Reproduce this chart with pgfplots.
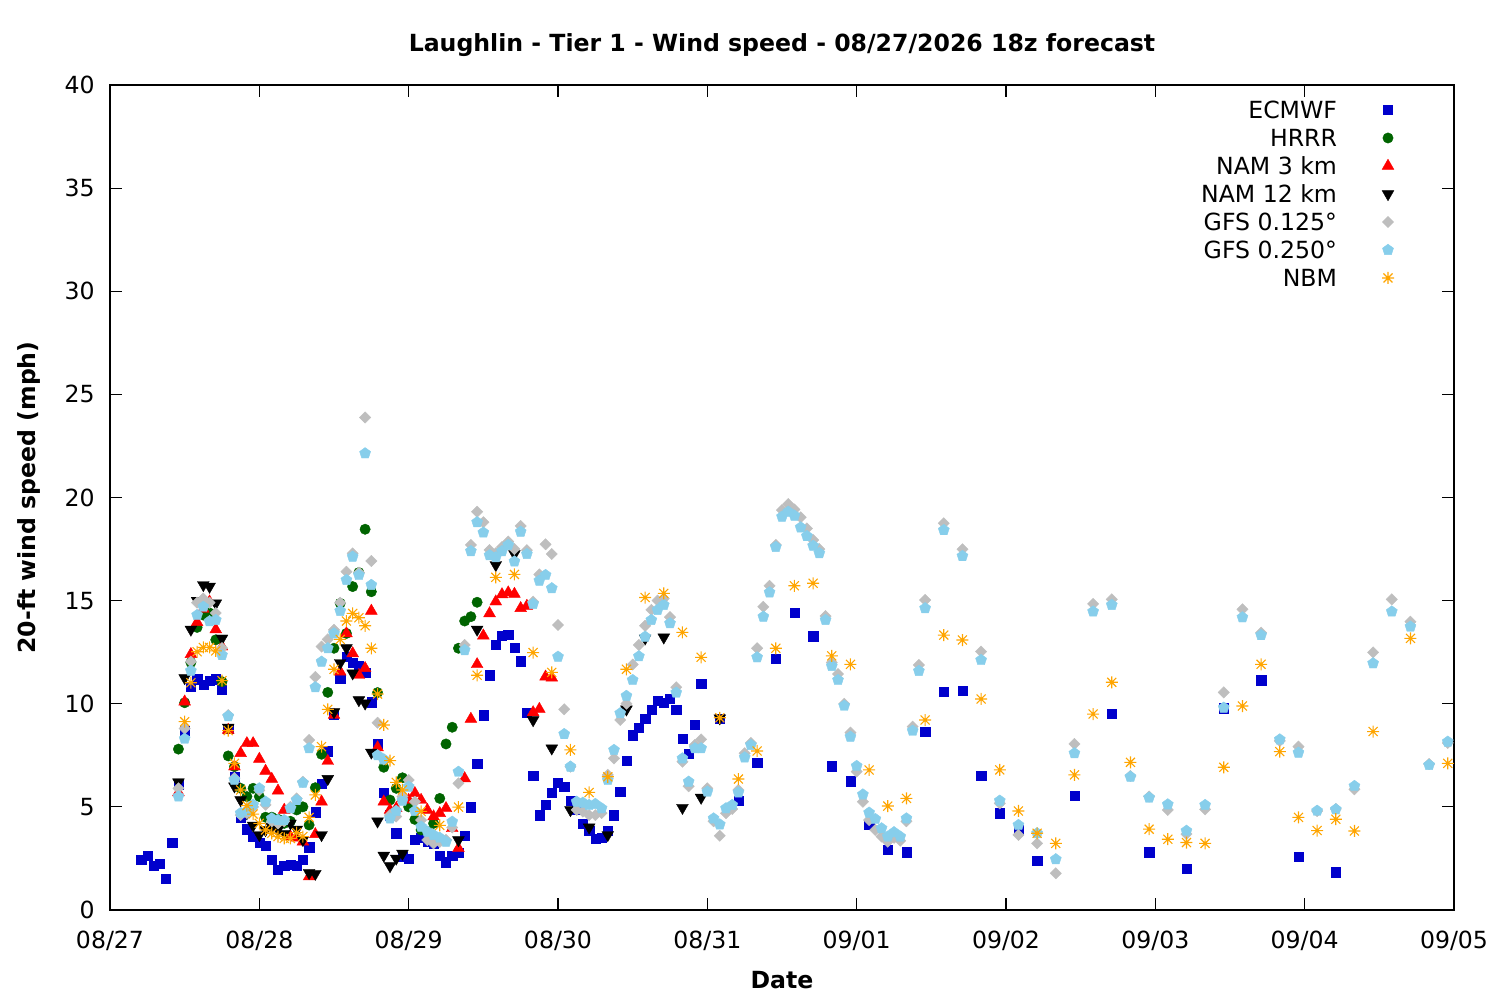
\documentclass[border=0pt]{standalone}
\usepackage{fontspec}
\setmainfont{DejaVu Sans}
\usepackage{pgfplots}
\pgfplotsset{compat=1.18}
\definecolor{ecm}{RGB}{0,0,204}
\definecolor{hrrr}{RGB}{0,100,0}
\definecolor{gfsa}{RGB}{190,190,190}
\definecolor{gfsb}{RGB}{135,206,235}
\definecolor{nbm}{RGB}{255,165,0}
\pgfdeclareplotmark{ast8}{%
  \pgfpathmoveto{\pgfqpoint{-\pgfplotmarksize}{0pt}}\pgfpathlineto{\pgfqpoint{\pgfplotmarksize}{0pt}}%
  \pgfpathmoveto{\pgfqpoint{0pt}{-\pgfplotmarksize}}\pgfpathlineto{\pgfqpoint{0pt}{\pgfplotmarksize}}%
  \pgfpathmoveto{\pgfqpoint{-0.75\pgfplotmarksize}{-0.75\pgfplotmarksize}}\pgfpathlineto{\pgfqpoint{0.75\pgfplotmarksize}{0.75\pgfplotmarksize}}%
  \pgfpathmoveto{\pgfqpoint{-0.75\pgfplotmarksize}{0.75\pgfplotmarksize}}\pgfpathlineto{\pgfqpoint{0.75\pgfplotmarksize}{-0.75\pgfplotmarksize}}%
  \pgfusepathqstroke}

\pgfplotstableread{
h v
5 2.42
6 2.62
7 2.13
8 2.26
9 1.50
10 3.28
11 6.1
12 8.7
13 10.83
14 11.19
15 10.94
16 11.10
17 11.19
18 10.70
19 8.80
20 6.46
21 4.50
22 3.92
23 3.55
24 3.28
25 3.12
26 2.42
27 1.97
28 2.13
29 2.18
30 2.13
31 2.42
32 3.04
33 4.74
34 6.14
35 7.70
36 9.45
37 11.23
38 12.30
39 12.0
40 11.84
41 11.50
42 10.07
43 8.08
44 5.70
45 4.6
46 3.72
47 2.6
48 2.50
49 3.40
50 3.5
51 3.3
52 3.2
53 2.65
54 2.32
55 2.65
56 2.78
57 3.59
58 4.98
59 7.08
60 9.44
61 11.38
62 12.88
63 13.30
64 13.35
65 12.73
66 12.06
67 9.58
68 6.53
69 4.60
70 5.09
71 5.67
72 6.19
73 5.96
74 5.28
75 4.85
76 4.20
77 3.83
78 3.44
79 3.52
80 3.84
81 4.60
82 5.75
83 7.24
84 8.47
85 8.82
86 9.26
87 9.73
88 10.15
89 10.05
90 10.23
91 9.73
92 8.29
93 7.56
94 9.00
95 10.99
98 9.26
101 5.28
104 7.16
107 12.17
110 14.43
113 13.27
116 6.97
119 6.24
122 4.15
125 2.94
128 2.80
131 8.66
134 10.60
137 10.65
140 6.53
143 4.69
146 3.88
149 2.38
155 5.56
161 9.53
167 2.80
173 2.02
179 9.78
185 11.14
191 2.57
197 1.83
}\ecmwf

\pgfplotstableread{
h v
11 7.80
12 10.05
13 12.0
14 13.70
15 14.3
16 14.4
17 13.10
18 11.07
19 7.47
20 6.95
21 5.90
22 5.5
23 5.90
24 5.50
25 4.50
26 4.50
27 4.4
28 4.2
29 4.30
30 4.85
31 5.00
32 4.12
33 5.93
34 7.55
35 10.55
36 12.69
37 14.87
38 13.41
39 15.68
40 16.36
41 18.46
42 15.43
43 10.54
44 6.92
45 5.33
46 5.9
47 6.41
48 5.0
49 4.39
50 3.88
51 3.8
52 4.2
53 5.41
54 8.05
55 8.86
56 12.69
57 14.01
58 14.22
59 14.92
}\hrrr

\pgfplotstableread{
h v
11 5.7
12 10.10
13 12.40
14 13.95
15 14.6
16 14.95
17 13.6
18 12.77
19 8.73
20 6.95
21 7.60
22 8.08
23 8.08
24 7.32
25 6.74
26 6.35
27 5.78
28 4.85
29 3.56
30 3.5
31 3.31
32 1.62
33 3.67
34 5.25
35 7.22
36 9.45
37 11.55
38 13.41
39 12.44
40 11.39
41 11.72
42 14.50
43 7.88
44 5.25
45 4.85
46 4.93
47 5.41
48 5.33
49 5.66
50 5.33
51 4.85
52 4.53
53 4.69
54 4.93
55 3.96
56 2.99
57 6.38
58 9.26
59 11.91
60 13.30
61 14.38
62 14.95
63 15.30
64 15.39
65 15.32
66 14.63
67 14.74
68 9.58
69 9.74
70 11.31
71 11.26
}\namthree

\pgfplotstableread{
h v
11 6.20
12 11.25
13 13.60
14 15.00
15 15.76
16 15.68
17 14.87
18 13.17
19 8.85
20 6.00
21 5.33
22 4.7
23 4.10
24 3.64
25 3.88
26 4.04
27 3.9
28 3.7
29 4.20
30 3.9
31 3.40
32 1.80
33 1.76
34 3.64
35 6.36
36 9.6
37 11.98
38 12.70
39 11.48
40 10.18
41 10.02
42 7.64
43 4.30
44 2.64
45 2.13
46 2.50
47 2.74
56 3.39
59 13.60
62 16.73
65 17.26
68 9.21
71 7.84
74 4.85
77 4.01
80 3.64
83 9.73
86 13.17
89 13.22
92 4.96
95 5.45
98 9.3
}\namtwelve

\pgfplotstableread{
h v
11 5.9
12 8.8
13 12.04
14 14.90
15 15.10
16 14.9
17 14.40
18 12.70
19 9.45
20 6.4
21 4.60
22 4.7
23 5.0
24 5.8
25 5.1
26 4.3
27 4.2
28 4.3
29 5.00
30 5.41
31 6.22
32 8.24
33 11.30
34 12.77
35 13.12
36 13.58
37 14.90
38 16.40
39 17.29
40 16.36
41 23.88
42 16.92
43 9.08
44 7.3
45 4.6
46 4.53
47 5.5
48 6.30
49 5.25
50 4.36
51 3.39
52 3.23
53 3.3
54 3.4
55 4.0
56 6.14
57 12.85
58 17.70
59 19.31
60 18.80
61 17.45
62 17.3
63 17.6
64 17.86
65 17.5
66 18.62
67 17.45
68 14.95
69 16.27
70 17.73
71 17.26
72 13.82
73 9.73
74 6.95
75 4.85
76 4.77
77 4.60
78 4.6
79 4.7
80 6.55
81 7.35
82 9.21
83 10.0
84 11.9
85 12.85
86 13.78
87 14.55
88 15.00
89 15.1
90 14.2
91 10.8
92 7.19
93 6.0
94 8.0
95 8.27
96 5.90
97 4.3
98 3.60
99 4.69
100 4.9
101 5.82
102 7.6
103 8.1
104 12.69
105 14.70
106 15.72
107 17.7
108 19.39
109 19.68
110 19.42
111 19.04
112 18.50
113 17.94
114 17.5
115 14.25
116 12.0
117 11.44
118 10.0
119 8.60
120 6.71
121 5.25
122 4.36
123 3.88
124 3.56
125 3.31
126 3.5
127 3.36
128 4.3
129 8.89
130 11.88
131 15.03
134 18.75
137 17.49
140 12.53
143 5.17
146 3.64
149 3.23
152 1.78
155 8.05
158 14.84
161 15.06
164 6.5
167 5.50
170 4.85
173 3.68
176 4.88
179 10.55
182 14.58
185 13.45
188 8.2
191 7.92
194 4.8
197 4.9
200 5.85
203 12.49
206 15.06
209 13.98
212 7.08
215 8.1
}\gfsone

\pgfplotstableread{
h v
11 5.5
12 8.3
13 11.6
14 14.3
15 14.7
16 14.0
17 14.06
18 12.36
19 9.4
20 6.3
21 4.7
22 4.8
23 5.1
24 5.9
25 5.25
26 4.44
27 4.36
28 4.36
29 4.93
30 5.33
31 6.17
32 7.84
33 10.8
34 12.04
35 12.69
36 13.41
37 14.5
38 16.0
39 17.13
40 16.24
41 22.14
42 15.76
43 7.5
44 7.3
45 4.44
46 4.8
47 5.3
48 5.98
49 4.8
50 4.04
51 3.8
52 3.64
53 3.5
54 3.31
55 4.28
56 6.70
57 12.60
58 17.40
59 18.80
60 18.30
61 17.20
62 17.10
63 17.40
64 17.70
65 16.90
66 18.34
67 17.26
68 14.84
69 15.97
70 16.24
71 15.60
72 12.28
73 8.53
74 6.95
75 5.25
76 5.20
77 5.09
78 5.14
79 4.93
80 6.3
81 7.76
82 9.54
83 10.38
84 11.15
85 12.30
86 13.25
87 14.06
88 14.55
89 14.79
90 13.90
91 10.54
92 7.35
93 6.22
94 7.84
95 7.84
96 5.74
97 4.44
98 4.15
99 4.93
100 5.09
101 5.7
102 7.40
103 8.00
104 12.25
105 14.22
106 15.40
107 17.60
108 19.07
109 19.31
110 19.12
111 18.55
112 18.13
113 17.66
114 17.30
115 14.06
116 11.83
117 11.15
118 9.90
119 8.40
120 6.98
121 5.60
122 4.72
123 4.41
124 3.96
125 3.56
126 3.77
127 3.56
128 4.44
129 8.69
130 11.59
131 14.63
134 18.42
137 17.16
140 12.12
143 5.30
146 4.12
149 3.72
152 2.46
155 7.60
158 14.47
161 14.79
164 6.46
167 5.45
170 5.12
173 3.84
176 5.09
179 9.81
182 14.19
185 13.33
188 8.27
191 7.63
194 4.81
197 4.88
200 6.01
203 11.96
206 14.47
209 13.74
212 7.03
215 8.16
}\gfstwo

\pgfplotstableread{
h v
12 9.13
13 11.02
14 12.52
15 12.73
16 12.73
17 12.56
18 11.12
19 8.70
20 7.11
21 5.82
22 5.06
23 4.65
24 4.20
25 3.88
26 3.72
27 3.56
28 3.47
29 3.47
30 3.75
31 3.56
32 4.49
33 5.58
34 7.92
35 9.73
36 11.67
37 13.12
38 14.01
39 14.38
40 14.17
41 13.78
42 12.69
43 10.47
44 8.97
45 7.24
46 6.19
47 5.82
50 4.78
53 4.10
56 4.99
59 11.38
62 16.13
65 16.27
68 12.48
71 11.52
74 7.76
77 5.70
80 6.46
83 11.67
86 15.15
89 15.35
92 13.46
95 12.25
98 9.32
101 6.35
104 7.71
107 12.69
110 15.72
113 15.84
116 12.32
119 11.91
122 6.79
125 5.04
128 5.41
131 9.21
134 13.33
137 13.09
140 10.23
143 6.79
146 4.80
149 3.72
152 3.23
155 6.55
158 9.50
161 11.04
164 7.16
167 3.92
170 3.43
173 3.27
176 3.23
179 6.92
182 9.89
185 11.91
188 7.68
191 4.49
194 3.85
197 4.40
200 3.83
203 8.65
209 13.17
215 7.11
}\nbm

\begin{document}
\fontsize{11.8}{14}\selectfont
\begin{tikzpicture}
\useasboundingbox (0,0) rectangle (750pt,500pt);
\begin{axis}[
  at={(55pt,45pt)}, anchor=south west,
  scale only axis, width=672pt, height=412.5pt,
  xmin=0, xmax=216, ymin=0, ymax=40,
  xtick={0,24,...,216},
  xticklabels={08/27,08/28,08/29,08/30,08/31,09/01,09/02,09/03,09/04,09/05},
  ytick={0,5,...,40},
  minor tick num=0,
  tick align=inside,
  major tick length=6pt,
  axis line style={line width=0.6pt},
  every tick/.style={black, line width=0.6pt},
  /pgf/number format/assume math mode=true,
  tick label style={font=\fontsize{11.8}{14}\selectfont},
  xticklabel style={anchor=base, yshift=-19.25pt, inner sep=0pt},
  yticklabel style={anchor=east, xshift=-7.5pt, inner sep=0pt},
  title={Laughlin - Tier 1 - Wind speed - 08/27/2026 18z forecast},
  title style={at={(axis description cs:0.5,1)}, anchor=base, yshift=10.5pt, inner sep=0pt, font=\fontsize{11.8}{14}\selectfont\bfseries},
  xlabel={Date},
  xlabel style={at={(axis description cs:0.5,0)}, anchor=base, yshift=-39.3pt, inner sep=0pt, font=\fontsize{11.8}{14}\selectfont\bfseries},
  ylabel={20-ft wind speed (mph)},
  ylabel style={at={(axis description cs:-0.05536,0.5)}, anchor=base, inner sep=0pt, font=\fontsize{11.8}{14}\selectfont\bfseries},
  legend cell align=right,
  legend plot pos=right,
  legend image code/.code={\path[draw=none,fill=none] (0pt,-3pt) rectangle (35pt,3pt); \draw[#1] plot coordinates {(25.5pt,0pt)};},
  legend style={at={(axis description cs:1,1)}, anchor=north east, xshift=-23.5pt, yshift=-5.5pt,
    draw=none, fill=none, inner sep=0pt, outer sep=0pt, row sep=0pt, column sep=0pt,
    font=\fontsize{11.8}{14}\selectfont,
    nodes={inner xsep=0pt, inner ysep=0pt, text height=8.6pt, text depth=0pt, minimum height=14pt}},
]
\addplot[only marks, mark=square*, mark size=2.3pt, color=ecm, mark options={line width=0.2pt}] table[x=h,y=v] {\ecmwf};
\addlegendentry{ECMWF}
\addplot[only marks, mark=*, mark size=2.6pt, color=hrrr, mark options={line width=0.2pt}] table[x=h,y=v] {\hrrr};
\addlegendentry{HRRR}
\addplot[only marks, mark=triangle*, mark size=3.4pt, color=red, mark options={line width=0.2pt}] table[x=h,y=v] {\namthree};
\addlegendentry{NAM 3 km}
\addplot[only marks, mark=triangle*, mark size=3.4pt, color=black, mark options={rotate=180, line width=0.2pt}] table[x=h,y=v] {\namtwelve};
\addlegendentry{NAM 12 km}
\addplot[only marks, mark=square*, mark size=2.0pt, color=gfsa, mark options={rotate=45, line width=0.2pt}] table[x=h,y=v] {\gfsone};
\addlegendentry{GFS 0.125°}
\addplot[only marks, mark=pentagon*, mark size=2.9pt, color=gfsb, mark options={line width=0.2pt}] table[x=h,y=v] {\gfstwo};
\addlegendentry{GFS 0.250°}
\addplot[only marks, mark=ast8, mark size=3.0pt, color=nbm, mark options={line width=0.55pt}] table[x=h,y=v] {\nbm};
\addlegendentry{NBM}
\end{axis}
\end{tikzpicture}
\end{document}
